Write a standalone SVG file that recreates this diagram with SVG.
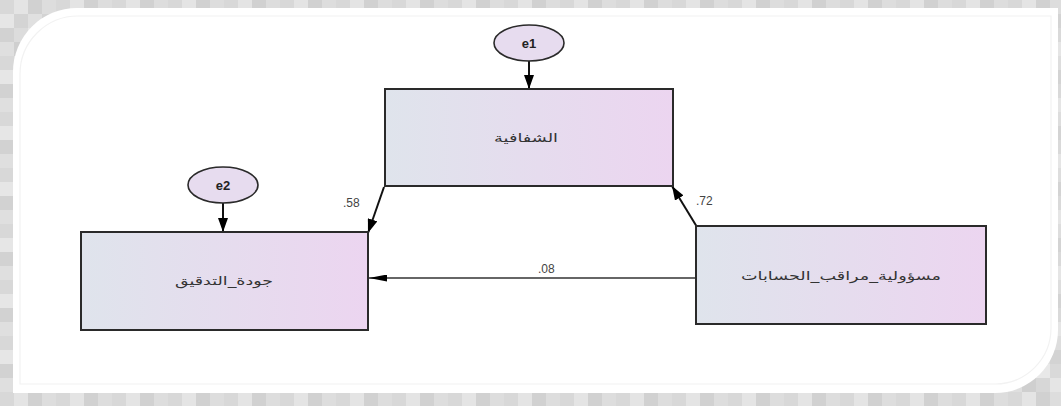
<svg xmlns="http://www.w3.org/2000/svg" width="1061" height="406" viewBox="0 0 1061 406">
<style>
.box{stroke:#2a2a2a;stroke-width:2;fill:url(#boxg)}
.ell{stroke:#2a2a2a;stroke-width:1.6;fill:#e7dcef}
.lbl{font-family:"DejaVu Sans","Noto Sans",sans-serif;font-size:12px;fill:#333;text-anchor:middle}
.ename{font-family:"Liberation Sans",Arial,sans-serif;font-size:13px;font-weight:bold;fill:#222;text-anchor:middle}
.coef{font-family:"Liberation Sans",Arial,sans-serif;font-size:12px;fill:#444}
.con{stroke:#111;stroke-width:2;fill:none;marker-end:url(#ah)}
.con2{stroke:#333;stroke-width:1.4;fill:none;marker-end:url(#ah2)}
</style>
<defs>
<linearGradient id="boxg" x1="0" y1="0" x2="1" y2="0">
<stop offset="0" stop-color="#dfe4ec"/>
<stop offset="1" stop-color="#ecd5f0"/>
</linearGradient>
<pattern id="chk" width="56" height="56" patternUnits="userSpaceOnUse">
<rect width="14" height="14" fill="#d8d8d8"/>
<rect x="14" width="14" height="14" fill="#e4e4e4"/>
<rect x="28" width="14" height="14" fill="#d1d1d1"/>
<rect x="42" width="14" height="14" fill="#dddddd"/>
<rect y="14" width="14" height="14" fill="#e6e6e6"/>
<rect x="14" y="14" width="14" height="14" fill="#d4d4d4"/>
<rect x="28" y="14" width="14" height="14" fill="#e0e0e0"/>
<rect x="42" y="14" width="14" height="14" fill="#d3d3d3"/>
<rect y="28" width="14" height="14" fill="#d2d2d2"/>
<rect x="14" y="28" width="14" height="14" fill="#dcdcdc"/>
<rect x="28" y="28" width="14" height="14" fill="#e8e8e8"/>
<rect x="42" y="28" width="14" height="14" fill="#d9d9d9"/>
<rect y="42" width="14" height="14" fill="#dfdfdf"/>
<rect x="14" y="42" width="14" height="14" fill="#cfcfcf"/>
<rect x="28" y="42" width="14" height="14" fill="#d7d7d7"/>
<rect x="42" y="42" width="14" height="14" fill="#e5e5e5"/>
</pattern>
<marker id="ah" viewBox="0 0 14 10" refX="14" refY="5" markerWidth="14" markerHeight="10" markerUnits="userSpaceOnUse" orient="auto">
<path d="M0,0 L14,5 L0,10 Z" fill="#000"/>
</marker>
<marker id="ah2" viewBox="0 0 18 7" refX="18" refY="3.5" markerWidth="18" markerHeight="7" markerUnits="userSpaceOnUse" orient="auto">
<path d="M0,0 L18,3.5 L0,7 Z" fill="#000"/>
</marker>
</defs>
<rect width="1061" height="406" fill="url(#chk)"/>
<path d="M13,72 A64,64 0 0 1 77,8 L1058,8 L1058,330 A63,63 0 0 1 995,393 L13,393 Z" fill="#ffffff"/>
<path d="M20,384 L20,74 A58,58 0 0 1 78,16 L1051,16 L1051,328 A56,56 0 0 1 995,384 Z" fill="none" stroke="#f2f2f2" stroke-width="1.2"/>
<g id="connectors">
<line class="con" x1="529" y1="61" x2="529" y2="89"/>
<line class="con" x1="223" y1="203" x2="223" y2="232"/>
<line class="con" x1="384" y1="187" x2="368" y2="233"/>
<line class="con" x1="697" y1="227" x2="672" y2="186"/>
<line class="con2" x1="696" y1="278" x2="369" y2="278"/>
<text class="coef" x="343" y="207">&#x202D;.58&#x202C;</text>
<text class="coef" x="696" y="205">&#x202D;.72&#x202C;</text>
<text class="coef" x="538" y="273">&#x202D;.08&#x202C;</text>
</g>
<g id="e1">
<ellipse class="ell" cx="529" cy="43" rx="35" ry="18"/>
<text class="ename" x="529" y="48">e1</text>
</g>
<g id="e2">
<ellipse class="ell" cx="223" cy="185" rx="35" ry="18"/>
<text class="ename" x="223" y="190">e2</text>
</g>
<g id="transparency">
<rect class="box" x="385" y="89" width="288" height="97"/>
<text class="lbl" x="526" y="142" textLength="64" lengthAdjust="spacingAndGlyphs">الشفافية</text>
</g>
<g id="audit_quality">
<rect class="box" x="81" y="232" width="287" height="98"/>
<text class="lbl" x="224" y="285" textLength="98" lengthAdjust="spacingAndGlyphs">جودة_التدقيق</text>
</g>
<g id="auditor_responsibility">
<rect class="box" x="696" y="226" width="290" height="98"/>
<text class="lbl" x="841" y="280" textLength="200" lengthAdjust="spacingAndGlyphs">مسؤولية_مراقب_الحسابات</text>
</g>
</svg>
